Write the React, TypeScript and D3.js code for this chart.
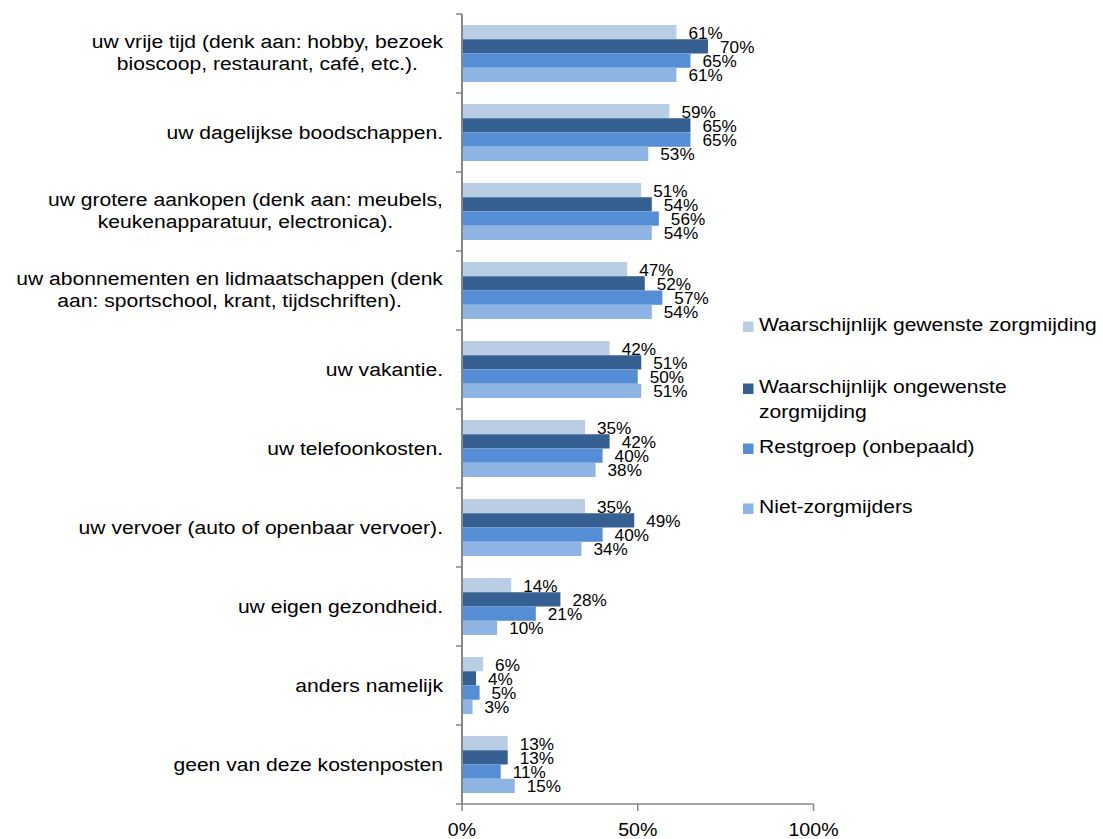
import React from 'react';
import * as d3 from 'd3';

const categories: string[][] = [
  ['uw vrije tijd (denk aan: hobby, bezoek', 'bioscoop, restaurant, café, etc.).'],
  ['uw dagelijkse boodschappen.'],
  ['uw grotere aankopen (denk aan: meubels,', 'keukenapparatuur, electronica).'],
  ['uw abonnementen en lidmaatschappen (denk', 'aan: sportschool, krant, tijdschriften).'],
  ['uw vakantie.'],
  ['uw telefoonkosten.'],
  ['uw vervoer (auto of openbaar vervoer).'],
  ['uw eigen gezondheid.'],
  ['anders namelijk'],
  ['geen van deze kostenposten'],
];

const seriesNames: string[] = [
  'Waarschijnlijk gewenste zorgmijding',
  'Waarschijnlijk ongewenste zorgmijding',
  'Restgroep (onbepaald)',
  'Niet-zorgmijders',
];
const legendLines: string[][] = [
  ['Waarschijnlijk gewenste zorgmijding'],
  ['Waarschijnlijk ongewenste', 'zorgmijding'],
  ['Restgroep (onbepaald)'],
  ['Niet-zorgmijders'],
];

const gewenste = [61, 59, 51, 47, 42, 35, 35, 14, 6, 13];
const ongewenste = [70, 65, 54, 52, 51, 42, 49, 28, 4, 13];
const restgroep = [65, 65, 56, 57, 50, 40, 40, 21, 5, 11];
const nietZorgmijders = [61, 53, 54, 54, 51, 38, 34, 10, 3, 15];
const seriesValues = [gewenste, ongewenste, restgroep, nietZorgmijders];

const colors = ['#B9CDE5', '#376092', '#558ED5', '#8EB4E3'];
const xTicks = [0, 50, 100];

const FONT = "'Liberation Sans', Arial, sans-serif";
const SX = 1.11;

function measure(text: string, size: number): number {
  const c = document.createElement('canvas').getContext('2d');
  if (!c) return text.length * size * 0.5;
  c.font = `${size}px 'Liberation Sans', Arial, sans-serif`;
  return c.measureText(text).width;
}

export default function App() {
  const x = d3.scaleLinear().domain([0, 100]).range([462, 813.5]);
  const y = d3
    .scaleBand<number>()
    .domain(d3.range(categories.length))
    .range([14, 804])
    .paddingInner(0.278)
    .paddingOuter(0.139);
  const ys = d3
    .scaleBand<number>()
    .domain(d3.range(seriesNames.length))
    .range([0, y.bandwidth()]);
  const step = y.step();
  const bandStart = (i: number) => 14 + i * step;
  const catSize = 19;
  const labelRight = 443;

  return (
    <svg
      width={1103}
      height={839}
      style={{ position: 'absolute', left: 0, top: 0, background: '#fff' }}
      fontFamily={FONT}
    >
      {/* bars */}
      {categories.map((_, ci) =>
        seriesValues.map((vals, si) => (
          <rect
            key={`b${ci}-${si}`}
            x={x(0)}
            y={(y(ci) as number) + (ys(si) as number)}
            width={x(vals[ci]) - x(0)}
            height={ys.bandwidth()}
            fill={colors[si]}
          />
        ))
      )}
      {/* data labels */}
      {categories.map((_, ci) =>
        seriesValues.map((vals, si) => {
          const cy = (y(ci) as number) + (ys(si) as number) + ys.bandwidth() / 2;
          return (
            <g key={`l${ci}-${si}`} transform={`translate(${x(vals[ci]) + 12},${cy + 6.5}) scale(1.04,1)`}>
              <text fontSize={16.5} fill="#000">{`${vals[ci]}%`}</text>
            </g>
          );
        })
      )}
      {/* axes */}
      <line x1={x(0)} x2={x(0)} y1={14} y2={804} stroke="#868686" strokeWidth={2} />
      <line x1={x(0)} x2={x(100)} y1={804} y2={804} stroke="#868686" strokeWidth={1.5} />
      {d3.range(categories.length + 1).map((i) => (
        <line key={`t${i}`} x1={456} x2={x(0)} y1={bandStart(i)} y2={bandStart(i)} stroke="#868686" strokeWidth={1.5} />
      ))}
      {xTicks.map((t) => (
        <g key={`x${t}`}>
          <line x1={x(t)} x2={x(t)} y1={804} y2={811} stroke="#868686" strokeWidth={1.5} />
          <g transform={`translate(${x(t)},835.5) scale(1.12,1)`}>
            <text fontSize={17.5} textAnchor="middle" fill="#000">{`${t}%`}</text>
          </g>
        </g>
      ))}
      {/* category labels */}
      {categories.map((lines, ci) => {
        const c = bandStart(ci) + step / 2;
        if (lines.length === 1) {
          return (
            <g key={`c${ci}`} transform={`translate(${labelRight},${c + 6}) scale(${SX},1)`}>
              <text fontSize={catSize} textAnchor="end" fill="#000">{lines[0]}</text>
            </g>
          );
        }
        const maxW = Math.max(...lines.map((l) => measure(l, catSize))) * SX;
        const cx = labelRight - maxW / 2;
        return (
          <g key={`c${ci}`}>
            {lines.map((l, li) => (
              <g key={li} transform={`translate(${cx},${c + 5 + (li - (lines.length - 1) / 2) * 22}) scale(${SX},1)`}>
                <text fontSize={catSize} textAnchor="middle" fill="#000">{l}</text>
              </g>
            ))}
          </g>
        );
      })}
      {/* legend */}
      {legendLines.map((lines, i) => {
        const baselines = [331, 393, 453, 513];
        const b = baselines[i];
        return (
          <g key={`lg${i}`}>
            <rect x={743} y={b - 9.5} width={10.5} height={10.5} fill={colors[i]} />
            {lines.map((l, li) => (
              <g key={li} transform={`translate(759,${b + li * 25}) scale(${SX},1)`}>
                <text fontSize={19} fill="#000">{l}</text>
              </g>
            ))}
          </g>
        );
      })}
    </svg>
  );
}
